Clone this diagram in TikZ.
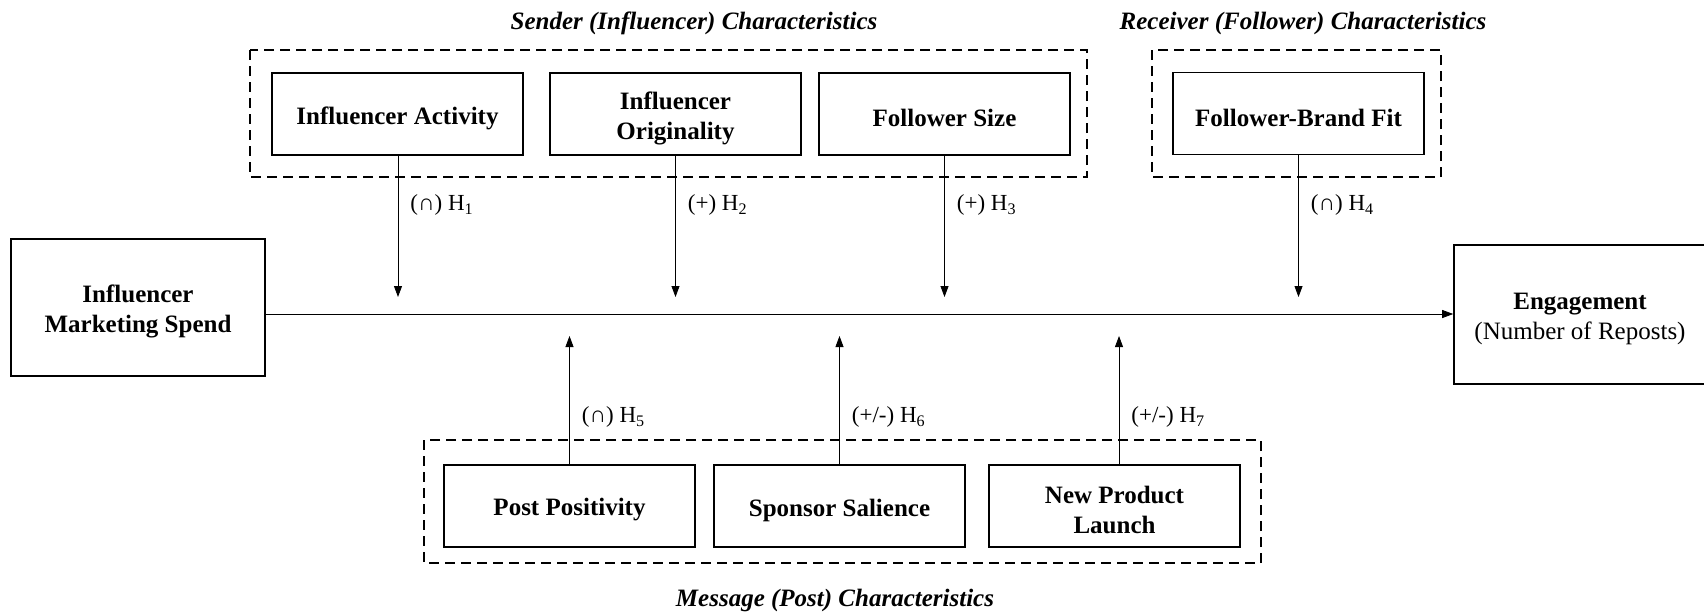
\documentclass[tikz,border=0pt]{standalone}
\usepackage{fontspec}
\setmainfont{Liberation Serif}
\usetikzlibrary{arrows.meta}
\begin{document}
\begin{tikzpicture}[x=1pt,y=-1pt,
  box/.style={draw, line width=1.6pt, inner sep=0pt, minimum width=251pt, minimum height=82pt},
  boxtxt/.style={label={[align=center, inner sep=0pt, yshift=-4pt, font=\fontsize{25}{30}\selectfont\bfseries]center:#1}},
  groupbox/.style={draw, line width=1.6pt, dash pattern=on 10pt off 6pt},
  title/.style={font=\fontsize{25}{30}\selectfont\bfseries\itshape},
  lbl/.style={anchor=west, inner sep=0pt, xshift=12pt, yshift=-1.5pt, font=\fontsize{23}{27}\selectfont},
  conn/.style={line width=0.8pt, -{Triangle[length=11pt,width=8pt]}}
]
\useasboundingbox (0,0) rectangle (1704,614);

% group frames
\draw[groupbox] (250,50) rectangle (1087,177);
\draw[groupbox] (1152,50) rectangle (1441,177);
\draw[groupbox] (424,440) rectangle (1261,563);

% titles
\node[title] (tsender) at (694,23.5) {Sender (Influencer) Characteristics};
\node[title] (treceiver) at (1303,23.5) {Receiver (Follower) Characteristics};
\node[title] (tmessage) at (835,600) {Message (Post) Characteristics};

% top boxes
\node[box, boxtxt={Influencer Activity}] (act) at (397.5,114) {};
\node[box, boxtxt={Influencer\\Originality}] (orig) at (675.5,114) {};
\node[box, boxtxt={Follower Size}] (size) at (944.5,114) {};
\node[box, boxtxt={Follower-Brand Fit}] (fit) at (1298.5,113.5) {};

% bottom boxes
\node[box, boxtxt={Post Positivity}] (pos) at (569.5,506) {};
\node[box, boxtxt={Sponsor Salience}] (sal) at (839.5,506) {};
\node[box, boxtxt={New Product\\Launch}] (npl) at (1114.5,506) {};

% main boxes
\node[box, minimum width=254pt, minimum height=137pt, boxtxt={Influencer\\Marketing Spend}] (ims) at (138,307.5) {};
\node[box, minimum width=252pt, minimum height=139pt, boxtxt={Engagement\\\mdseries (Number of Reposts)}] (eng) at (1580,314.5) {};

% end points
\coordinate (t1) at (398,297);
\coordinate (t2) at (675.5,297);
\coordinate (t3) at (944.5,297);
\coordinate (t4) at (1298.5,297);
\coordinate (t5) at (569.5,336);
\coordinate (t6) at (839.5,336);
\coordinate (t7) at (1119,336);

% main connector
\draw[conn] (ims.east |- 0,314) -- (eng.west |- 0,314);

% down arrows
\draw[conn] (act.south -| t1) -- (t1) node[lbl, pos=0.34] {(∩) H\textsubscript{1}};
\draw[conn] (orig.south) -- (t2) node[lbl, pos=0.34] {(+) H\textsubscript{2}};
\draw[conn] (size.south) -- (t3) node[lbl, pos=0.34] {(+) H\textsubscript{3}};
\draw[conn] (fit.south) -- (t4) node[lbl, pos=0.34] {(∩) H\textsubscript{4}};

% up arrows
\draw[conn] (pos.north) -- (t5) node[lbl, pos=0.38] {(∩) H\textsubscript{5}};
\draw[conn] (sal.north) -- (t6) node[lbl, pos=0.38] {(+/-) H\textsubscript{6}};
\draw[conn] (npl.north -| t7) -- (t7) node[lbl, pos=0.38] {(+/-) H\textsubscript{7}};
\end{tikzpicture}
\end{document}
